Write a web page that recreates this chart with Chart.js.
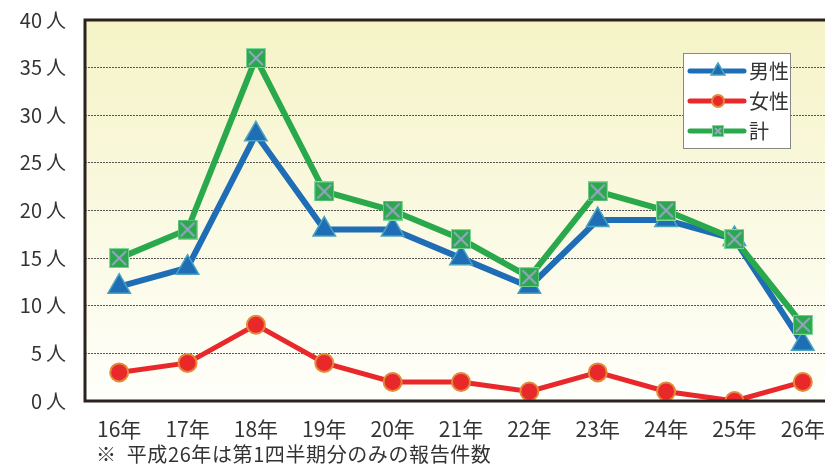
<!DOCTYPE html>
<html>
<head>
<meta charset="utf-8">
<script src="https://cdn.jsdelivr.net/npm/chart.js@4"></script>
<style>
    html, body { margin: 0; padding: 0; background: #fff; overflow: hidden; }
    #wrap { position: relative; width: 855px; height: 464px; }
    #note { position: absolute; left: 96px; top: 439px; font: 20px "Noto Sans CJK JP", sans-serif; letter-spacing: 0.6px; color: #333; white-space: nowrap; }
</style>
</head>
<body>
<div id="wrap">
    <canvas id="myChart" width="853" height="464"></canvas>
    <div id="note">※&nbsp;&nbsp;平成26年は第1四半期分のみの報告件数</div>
</div>
<script>
// categories & values
const years = ['16年', '17年', '18年', '19年', '20年', '21年', '22年', '23年', '24年', '25年', '26年'];
const male = [12, 14, 28, 18, 18, 15, 12, 19, 19, 17, 6];
const female = [3, 4, 8, 4, 2, 2, 1, 3, 1, 0, 2];
const total = [15, 18, 36, 22, 20, 17, 13, 22, 20, 17, 8];
const yTicks = [0, 5, 10, 15, 20, 25, 30, 35, 40];

const BLUE = '#1f6db5', RED = '#e8282a', GREEN = '#2aa84c';

// green square with a grey cross
function makeSquareX(size) {
    const c = document.createElement('canvas');
    c.width = size; c.height = size;
    const g = c.getContext('2d');
    g.fillStyle = GREEN;
    g.fillRect(0, 0, size, size);
    g.strokeStyle = '#7fd79a';
    g.lineWidth = 1;
    g.strokeRect(0.5, 0.5, size - 1, size - 1);
    g.strokeStyle = '#9aa3c8';
    g.lineWidth = 2;
    g.beginPath();
    g.moveTo(3, 3); g.lineTo(size - 3, size - 3);
    g.moveTo(size - 3, 3); g.lineTo(3, size - 3);
    g.stroke();
    return c;
}
const squareX = makeSquareX(20);

// yellow->white gradient behind the plot, plus frame
const bgPlugin = {
    id: 'bgPlugin',
    beforeDraw(chart) {
        const {ctx, chartArea: a} = chart;
        const grad = ctx.createLinearGradient(0, a.top, 0, a.bottom);
        grad.addColorStop(0, '#f5f3c6');
        grad.addColorStop(1, '#fffffb');
        ctx.save();
        ctx.fillStyle = grad;
        ctx.fillRect(a.left, a.top, a.right - a.left, a.bottom - a.top);
        ctx.restore();
    },
    afterDatasetsDraw(chart) {
        const {ctx, chartArea: a} = chart;
        ctx.save();
        ctx.strokeStyle = '#2b2220';
        ctx.lineWidth = 3;
        ctx.beginPath();
        ctx.moveTo(a.right + 2, a.top);
        ctx.lineTo(a.left, a.top);
        ctx.lineTo(a.left, a.bottom);
        ctx.lineTo(a.right + 2, a.bottom);
        ctx.stroke();
        ctx.restore();
    }
};

// boxed legend in the upper right
const legendBox = {
    id: 'legendBox',
    afterDraw(chart) {
        const ctx = chart.ctx;
        const x = 683, y = 53, w = 107, h = 95;
        ctx.save();
        ctx.fillStyle = '#fff';
        ctx.fillRect(x, y, w, h);
        ctx.strokeStyle = '#888';
        ctx.lineWidth = 1;
        ctx.strokeRect(x + 0.5, y + 0.5, w, h);
        ctx.font = '20px "Noto Sans CJK JP", sans-serif';
        ctx.textBaseline = 'middle';
        chart.data.datasets.forEach((ds, i) => {
            const cy = y + 18 + i * 30;
            ctx.strokeStyle = ds.borderColor;
            ctx.lineWidth = 5;
            ctx.lineCap = 'round';
            ctx.beginPath();
            ctx.moveTo(x + 7, cy); ctx.lineTo(x + 61, cy);
            ctx.stroke();
            const mx = x + 35;
            if (i === 0) {
                ctx.fillStyle = BLUE; ctx.strokeStyle = '#4aa3bf'; ctx.lineWidth = 1.5;
                ctx.beginPath();
                ctx.moveTo(mx, cy - 8); ctx.lineTo(mx + 7, cy + 4); ctx.lineTo(mx - 7, cy + 4); ctx.closePath();
                ctx.fill(); ctx.stroke();
            } else if (i === 1) {
                ctx.fillStyle = RED; ctx.strokeStyle = '#e38a3a'; ctx.lineWidth = 2;
                ctx.beginPath(); ctx.arc(mx, cy, 6, 0, Math.PI * 2); ctx.fill(); ctx.stroke();
            } else {
                ctx.drawImage(makeSquareX(12), mx - 6, cy - 6);
            }
            ctx.fillStyle = '#333';
            ctx.fillText(ds.label, x + 66, cy);
        });
        ctx.restore();
    }
};

const ctx = document.getElementById('myChart');
new Chart(ctx, {
    type: 'line',
    data: {
        labels: years,
        datasets: [{
            label: '男性',
            data: male,
            borderColor: BLUE,
            borderWidth: 6,
            pointStyle: 'triangle',
            pointRadius: 13,
            pointBackgroundColor: BLUE,
            pointBorderColor: '#4aa3bf',
            pointBorderWidth: 1.5,
            order: 2
        }, {
            label: '女性',
            data: female,
            borderColor: RED,
            borderWidth: 5,
            pointStyle: 'circle',
            pointRadius: 9,
            pointBackgroundColor: RED,
            pointBorderColor: '#e38a3a',
            pointBorderWidth: 2,
            order: 3
        }, {
            label: '計',
            data: total,
            borderColor: GREEN,
            borderWidth: 6,
            pointStyle: squareX,
            pointRadius: 10,
            order: 1
        }]
    },
    options: {
        responsive: false,
        animation: false,
        layout: {padding: {top: 20, right: 0, bottom: 22, left: 0}},
        plugins: {legend: {display: false}, tooltip: {enabled: false}},
        scales: {
            x: {
                offset: true,
                grid: {
                    offset: true,
                    drawOnChartArea: false,
                    tickLength: 0,
                    color: '#999'
                },
                border: {display: false},
                ticks: {color: '#333', padding: 15, font: {family: '"Noto Sans CJK JP", sans-serif', size: 21}},
                afterFit(s) { s.height = 41; s.paddingLeft = 0; s.paddingRight = 0; }
            },
            y: {
                min: 0,
                max: 40,
                afterBuildTicks(s) { s.ticks = yTicks.map(v => ({value: v})); },
                grid: {
                    color: ctx => ctx.tick.value === 0 || ctx.tick.value === 40 ? 'rgba(0,0,0,0)' : '#555',
                    lineWidth: 1,
                    drawTicks: false
                },
                border: {display: false, dash: [2, 1]},
                ticks: {
                    color: '#333',
                    padding: 19,
                    font: {family: '"Noto Sans CJK JP", sans-serif', size: 20},
                    callback: v => v + '\u2009人'
                },
                afterFit(s) { s.width = 85; s.paddingTop = 0; s.paddingBottom = 0; }
            }
        }
    },
    plugins: [bgPlugin, legendBox]
});
</script>
</body>
</html>
